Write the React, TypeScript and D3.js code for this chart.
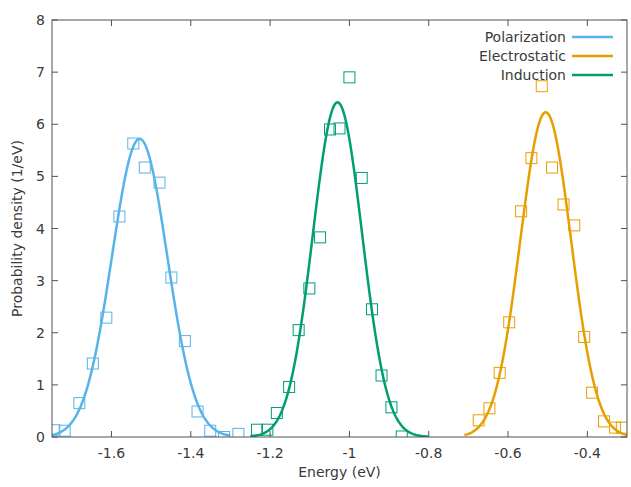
import React from "react";
import * as d3 from "d3";

// ---- data ----
const seriesNames = ["Polarization", "Electrostatic", "Induction"];
const seriesColors = ["#56b4e9", "#e69f00", "#009e73"];

const polX = [-1.744, -1.718, -1.681, -1.647, -1.613, -1.580, -1.545, -1.516, -1.479, -1.449, -1.415, -1.383, -1.351, -1.316, -1.280];
const polY = [0.13, 0.12, 0.65, 1.41, 2.29, 4.23, 5.63, 5.17, 4.88, 3.06, 1.84, 0.49, 0.12, 0.0, 0.06];

const eleX = [-0.674, -0.647, -0.621, -0.597, -0.567, -0.541, -0.515, -0.489, -0.460, -0.433, -0.408, -0.388, -0.358, -0.330, -0.313];
const eleY = [0.32, 0.55, 1.23, 2.2, 4.33, 5.35, 6.73, 5.17, 4.46, 4.06, 1.92, 0.85, 0.30, 0.18, 0.18];

const indX = [-1.233, -1.207, -1.183, -1.152, -1.128, -1.101, -1.074, -1.049, -1.025, -1.0, -0.969, -0.943, -0.919, -0.894, -0.868];
const indY = [0.14, 0.14, 0.46, 0.96, 2.05, 2.85, 3.83, 5.9, 5.92, 6.9, 4.97, 2.45, 1.18, 0.57, 0.01];

// Gaussian fit parameters (Polarization, Electrostatic, Induction)
const fitMean = [-1.529, -0.505, -1.030];
const fitPeak = [5.72, 6.23, 6.42];
const fitSigma = [0.0697, 0.064, 0.0621];
const fitFrom = [-1.75, -0.71, -1.25];
const fitTo = [-1.30, -0.30, -0.80];

const xTicks = [-1.6, -1.4, -1.2, -1, -0.8, -0.6, -0.4];
const yTicks = [0, 1, 2, 3, 4, 5, 6, 7, 8];

const W = 631;
const H = 487;
const L = 52, R = 627, T = 20, B = 437;
const FONT = "'DejaVu Sans', sans-serif";
const TXT = "#3a3a3a";
const AX = "#505050";

export default function App() {
  const x = d3.scaleLinear().domain([-1.75, -0.3]).range([L, R]);
  const y = d3.scaleLinear().domain([0, 8]).range([B, T]);

  const pts = [
    { xs: polX, ys: polY },
    { xs: eleX, ys: eleY },
    { xs: indX, ys: indY },
  ];

  const line = d3
    .line<[number, number]>()
    .x((d) => x(d[0]))
    .y((d) => y(d[1]))
    .curve(d3.curveLinear);

  const curves = fitMean.map((m, i) => {
    const n = 200;
    const arr: [number, number][] = [];
    for (let k = 0; k <= n; k++) {
      const xv = fitFrom[i] + ((fitTo[i] - fitFrom[i]) * k) / n;
      const yv = fitPeak[i] * Math.exp(-((xv - m) ** 2) / (2 * fitSigma[i] ** 2));
      arr.push([xv, yv]);
    }
    return line(arr) || "";
  });

  const sq = 11;
  const tick = 6;
  const fmt = (v: number) => String(v);

  return (
    <svg
      width={W}
      height={H}
      style={{ position: "absolute", left: 0, top: 0, background: "#fff" }}
      fontFamily={FONT}
    >
      <defs>
        <clipPath id="plot">
          <rect x={L} y={T} width={R - L} height={B - T} />
        </clipPath>
      </defs>

      {/* ticks */}
      {xTicks.map((t) => (
        <g key={"xt" + t}>
          <line x1={x(t)} x2={x(t)} y1={B} y2={B - tick} stroke={AX} strokeWidth={1} />
          <line x1={x(t)} x2={x(t)} y1={T} y2={T + tick} stroke={AX} strokeWidth={1} />
          <text x={x(t)} y={B + 21} textAnchor="middle" fontSize={14} fill={TXT}>
            {fmt(t)}
          </text>
        </g>
      ))}
      {yTicks.map((t) => (
        <g key={"yt" + t}>
          <line x1={L} x2={L + tick} y1={y(t)} y2={y(t)} stroke={AX} strokeWidth={1} />
          <line x1={R} x2={R - tick} y1={y(t)} y2={y(t)} stroke={AX} strokeWidth={1} />
          <text x={45} y={y(t) + 5} textAnchor="end" fontSize={14} fill={TXT}>
            {fmt(t)}
          </text>
        </g>
      ))}

      {/* data */}
      <g clipPath="url(#plot)">
        {pts.map((s, i) => (
          <g key={"s" + i}>
            {s.xs.map((xv, j) => (
              <rect
                key={j}
                x={x(xv) - sq / 2}
                y={y(s.ys[j]) - sq / 2}
                width={sq}
                height={sq}
                fill="none"
                stroke={seriesColors[i]}
                strokeWidth={1}
              />
            ))}
          </g>
        ))}
        {curves.map((d, i) => (
          <path key={"c" + i} d={d} fill="none" stroke={seriesColors[i]} strokeWidth={2.5} />
        ))}
      </g>

      {/* border */}
      <rect x={L} y={T} width={R - L} height={B - T} fill="none" stroke={AX} strokeWidth={1} />

      {/* legend */}
      {seriesNames.map((n, i) => (
        <g key={"lg" + i}>
          <text x={566} y={37 + i * 19 + 5} textAnchor="end" fontSize={14} fill={TXT}>
            {n}
          </text>
          <line x1={572} x2={613} y1={37 + i * 19} y2={37 + i * 19} stroke={seriesColors[i]} strokeWidth={2.5} />
        </g>
      ))}

      {/* axis labels */}
      <text x={(L + R) / 2} y={477} textAnchor="middle" fontSize={14} fill={TXT}>
        Energy (eV)
      </text>
      <text
        transform={`translate(22, ${(T + B) / 2}) rotate(-90)`}
        textAnchor="middle"
        fontSize={14}
        fill={TXT}
      >
        Probability density (1/eV)
      </text>
    </svg>
  );
}
